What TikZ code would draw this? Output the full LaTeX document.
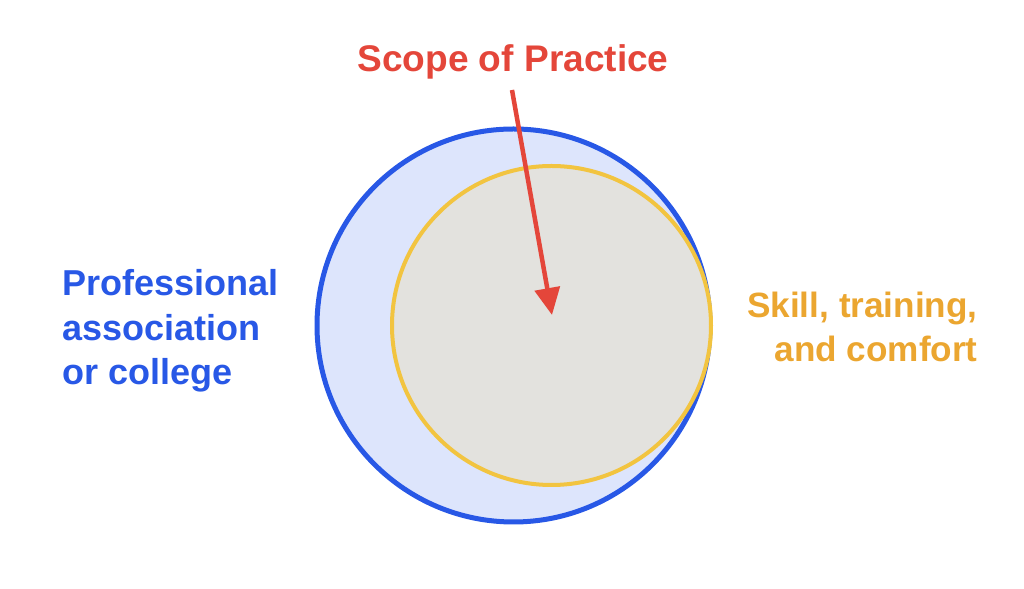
\documentclass[tikz,border=0pt]{standalone}
\usepackage{fontspec}
\setmainfont{Liberation Sans}
\usetikzlibrary{arrows.meta}
\definecolor{scopered}{HTML}{E4463A}
\definecolor{assocblue}{HTML}{2858E6}
\definecolor{assocfill}{HTML}{DDE5FC}
\definecolor{skillyellow}{HTML}{F2C440}
\definecolor{skillfill}{HTML}{E3E2DE}
\definecolor{skillorange}{HTML}{EBA630}
\tikzset{
  label text/.style={inner sep=0pt, font=\fontsize{20.5}{25.5}\selectfont\bfseries},
}

\begin{document}
\begin{tikzpicture}
    \useasboundingbox (0,0) rectangle (20.48,11.78);
    \draw[assocblue, line width=0.1cm, fill=assocfill] (10.27,5.27) circle (3.93);
    \draw[skillyellow, line width=0.08cm, fill=skillfill] (11.03,5.27) circle (3.19);
    \node[label text, scopered, anchor=base, font=\fontsize{21.1}{25.5}\selectfont\bfseries] (scope) at (10.26,10.34) {Scope of Practice};
    \coordinate (arrowstart) at (10.24,9.98);
    \coordinate (arrowtip) at (11.04,5.48);
    \draw[scopered, line width=0.09cm, -{Triangle[width=0.5cm,length=0.54cm]}] (arrowstart) -- (arrowtip);
    \node[label text, assocblue, anchor=base west, align=left] (assoc) at (1.24,4.08)
      {Professional\\association\\or college};
    \node[label text, skillorange, anchor=base east, align=right, font=\fontsize{20}{25.5}\selectfont\bfseries] (skill) at (19.56,4.54)
      {Skill, training,\\and comfort};
\end{tikzpicture}
\end{document}
